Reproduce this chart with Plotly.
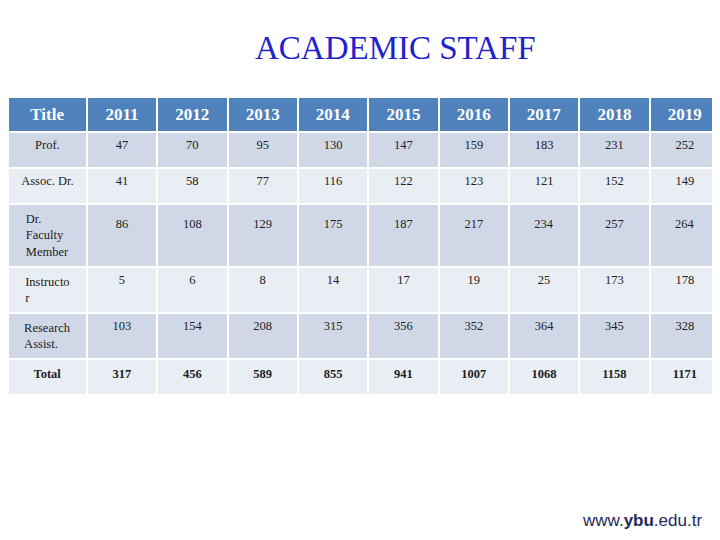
import plotly.graph_objects as go

years = ["2011","2012","2013","2014","2015","2016","2017","2018","2019"]
titles = ["Prof.","Assoc. Dr.","Dr.<br>Faculty<br>Member","Instructo<br>r","Research<br>Assist.","<b>Total</b>"]
prof = [47,70,95,130,147,159,183,231,252]
assoc = [41,58,77,116,122,123,121,152,149]
drfac = [86,108,129,175,187,217,234,257,264]
instr = [5,6,8,14,17,19,25,173,178]
resas = [103,154,208,315,356,352,364,345,328]
total = [317,456,589,855,941,1007,1068,1158,1171]

rows = [prof, assoc, drfac, instr, resas]
prefix = ["", "", "<br>", "", "", ""]
cols = [titles]
for i in range(len(years)):
    vals = [str(r[i]) for r in rows] + ["<b>%d</b>" % total[i]]
    cols.append([p + v for p, v in zip(prefix, vals)])

rowfill = ["#D0D8E8","#E9EDF4","#D0D8E8","#E9EDF4","#D0D8E8","#E9EDF4"]
fig = go.Figure(go.Table(
    columnwidth=[1.12] + [1]*9,
    header=dict(values=["<b>Title</b>"] + ["<b>%s</b>" % y for y in years],
                fill_color="#4F81BD", line=dict(color="white", width=2),
                font=dict(family="Liberation Serif", size=17, color="white"),
                align="center", height=35),
    cells=dict(values=cols, fill_color=[rowfill]*10,
               line=dict(color="white", width=2),
               font=dict(family="Liberation Serif", size=12.5, color="#222222"),
               align="center", height=36),
    domain=dict(x=[0,1], y=[0,1-89/532]),
))
fig.add_annotation(text="ACADEMIC STAFF", x=387/712, y=1-40/532, xref="paper", yref="paper",
                   xanchor="center", yanchor="middle", showarrow=False,
                   font=dict(family="Liberation Serif", size=33, color="#2222CC"))
fig.add_annotation(text="www.<b>ybu</b>.edu.tr", x=634/712, y=1-512/532, xref="paper", yref="paper",
                   xanchor="center", yanchor="middle", showarrow=False,
                   font=dict(family="Liberation Sans", size=17, color="#1F2A5A"))
fig.update_layout(width=712, height=532, margin=dict(l=0,r=0,t=0,b=0),
                  paper_bgcolor="white", plot_bgcolor="white")
fig.write_html("out.html")
